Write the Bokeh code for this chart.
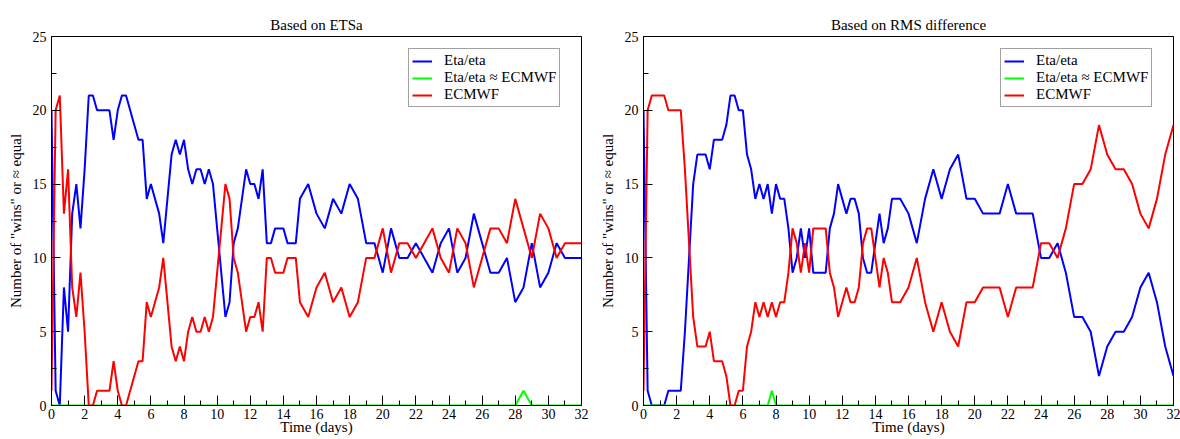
import numpy as np
from bokeh.plotting import figure
from bokeh.models import Range1d, SingleIntervalTicker, Legend, LegendItem
from bokeh.layouts import row
from bokeh.embed import file_html
from bokeh.resources import INLINE

# time axis: every 6 h up to day 15, then every 12 h
time_fine = np.arange(0, 15.001, 0.25)
time_coarse = np.arange(15.5, 32.001, 0.5)
time_days = np.concatenate([time_fine, time_coarse])

# ---- Based on ETSa ----
ets_eta = [20, 1, 0, 8, 5, 13, 15, 12, 16, 21,
           21, 20, 20, 20, 20, 18, 20, 21, 21, 20,
           19, 18, 18, 14, 15, 14, 13, 11, 14, 17,
           18, 17, 18, 16, 15, 16, 16, 15, 16, 15,
           12, 9, 6, 7, 11, 12, 14, 16, 15, 15,
           14, 16, 11, 11, 12, 12, 12, 11, 11, 11, 14,
           15, 13, 12, 14, 13, 15, 14, 11, 11, 9,
           12, 10, 10, 11, 10, 9, 11, 12, 9, 10,
           13, 11, 9, 9, 10, 7, 8, 11, 8, 9,
           11, 10, 10, 10]
ets_tie = [0, 0, 0, 0, 0, 0, 0, 0, 0, 0,
           0, 0, 0, 0, 0, 0, 0, 0, 0, 0,
           0, 0, 0, 0, 0, 0, 0, 0, 0, 0,
           0, 0, 0, 0, 0, 0, 0, 0, 0, 0,
           0, 0, 0, 0, 0, 0, 0, 0, 0, 0,
           0, 0, 0, 0, 0, 0, 0, 0, 0, 0, 0,
           0, 0, 0, 0, 0, 0, 0, 0, 0, 0,
           0, 0, 0, 0, 0, 0, 0, 0, 0, 0,
           0, 0, 0, 0, 0, 0, 1, 0, 0, 0,
           0, 0, 0, 0]
ets_ecmwf = [1, 20, 21, 13, 16, 8, 6, 9, 5, 0,
             0, 1, 1, 1, 1, 3, 1, 0, 0, 1,
             2, 3, 3, 7, 6, 7, 8, 10, 7, 4,
             3, 4, 3, 5, 6, 5, 5, 6, 5, 6,
             9, 12, 15, 14, 10, 9, 7, 5, 6, 6,
             7, 5, 10, 10, 9, 9, 9, 10, 10, 10, 7,
             6, 8, 9, 7, 8, 6, 7, 10, 10, 12,
             9, 11, 11, 10, 11, 12, 10, 9, 12, 11,
             8, 10, 12, 12, 11, 14, 12, 10, 13, 12,
             10, 11, 11, 11]

# ---- Based on RMS difference ----
rms_eta = [20, 1, 0, 0, 0, 0, 1, 1, 1, 1,
           5, 10, 15, 17, 17, 17, 16, 18, 18, 18,
           19, 21, 21, 20, 20, 17, 16, 14, 15, 14,
           15, 13, 15, 14, 14, 12, 9, 10, 12, 10,
           12, 9, 9, 9, 9, 12, 13, 15, 14, 13,
           14, 14, 13, 10, 9, 9, 11, 13, 11, 12, 14,
           14, 13, 11, 14, 16, 14, 16, 17, 14, 14,
           13, 13, 13, 15, 13, 13, 13, 10, 10, 11,
           9, 6, 6, 5, 2, 4, 5, 5, 6, 8,
           9, 7, 4, 2]
rms_tie = [0, 0, 0, 0, 0, 0, 0, 0, 0, 0,
           0, 0, 0, 0, 0, 0, 0, 0, 0, 0,
           0, 0, 0, 0, 0, 0, 0, 0, 0, 0,
           0, 1, 0, 0, 0, 0, 0, 0, 0, 0,
           0, 0, 0, 0, 0, 0, 0, 0, 0, 0,
           0, 0, 0, 0, 0, 0, 0, 0, 0, 0, 0,
           0, 0, 0, 0, 0, 0, 0, 0, 0, 0,
           0, 0, 0, 0, 0, 0, 0, 0, 0, 0,
           0, 0, 0, 0, 0, 0, 0, 0, 0, 0,
           0, 0, 0, 0]
rms_ecmwf = [1, 20, 21, 21, 21, 21, 20, 20, 20, 20,
             16, 11, 6, 4, 4, 4, 5, 3, 3, 3,
             2, 0, 0, 1, 1, 4, 5, 7, 6, 7,
             6, 7, 6, 7, 7, 9, 12, 11, 9, 11,
             9, 12, 12, 12, 12, 9, 8, 6, 7, 8,
             7, 7, 8, 11, 12, 12, 10, 8, 10, 9, 7,
             7, 8, 10, 7, 5, 7, 5, 4, 7, 7,
             8, 8, 8, 6, 8, 8, 8, 11, 11, 10,
             12, 15, 15, 16, 19, 17, 16, 16, 15, 13,
             12, 14, 17, 19]

x_ticks_major = 2
y_ticks_major = 5
series_labels = ["Eta/eta", "Eta/eta \u2248 ECMWF", "ECMWF"]
series_colors = ["#0000ff", "#00ff00", "#ff0000"]

SERIF = "'Liberation Serif', 'Times New Roman', serif"
FRAME_H = 369


def panel(title, eta, tie, ecmwf, frame_w, border_left, border_right):
    p = figure(frame_width=frame_w, frame_height=FRAME_H,
               x_range=Range1d(0, 32), y_range=Range1d(0, 25),
               output_backend="svg", toolbar_location=None,
               min_border_left=border_left, min_border_right=border_right,
               min_border_top=36, min_border_bottom=0)
    p.title.text = title
    p.title.align = "center"
    p.title.text_font = SERIF
    p.title.text_font_style = "normal"
    p.title.text_font_size = "15px"
    p.title.text_color = "black"
    p.title.standoff = 8

    p.xgrid.visible = False
    p.ygrid.visible = False
    p.outline_line_color = "black"
    p.outline_line_width = 1
    p.outline_line_alpha = 1

    p.xaxis.ticker = SingleIntervalTicker(interval=x_ticks_major, num_minor_ticks=2)
    p.yaxis.ticker = SingleIntervalTicker(interval=y_ticks_major, num_minor_ticks=2)
    p.xaxis.axis_label = "Time (days)"
    p.yaxis.axis_label = "Number of \"wins\" or \u2248 equal"
    for ax in (p.xaxis[0], p.yaxis[0]):
        ax.axis_line_color = "black"
        ax.major_tick_line_color = "black"
        ax.minor_tick_line_color = "black"
        ax.major_tick_out = 0
        ax.minor_tick_in = 5
        ax.minor_tick_out = 0
        ax.major_label_text_font = SERIF
        ax.major_label_text_font_size = "14px"
        ax.major_label_text_color = "black"
        ax.axis_label_text_font = SERIF
        ax.axis_label_text_font_style = "normal"
        ax.axis_label_text_font_size = "15px"
        ax.axis_label_text_color = "black"
    p.xaxis.major_tick_in = 10
    p.yaxis.major_tick_in = 9
    p.xaxis.major_label_standoff = 3
    p.xaxis.axis_label_standoff = -3
    p.yaxis.major_label_standoff = 5
    p.yaxis.axis_label_standoff = 6

    renderers = []
    for vals, col in zip([eta, tie, ecmwf], series_colors):
        r = p.line(time_days, vals, line_color=col, line_width=2)
        renderers.append(r)

    legend = Legend(items=[LegendItem(label=l, renderers=[r]) for l, r in zip(series_labels, renderers)],
                    location=(357, FRAME_H - 71))
    legend.label_text_font = SERIF
    legend.label_text_font_size = "15px"
    legend.label_text_line_height = 1.0
    legend.label_text_color = "black"
    legend.glyph_width = 20
    legend.glyph_height = 14
    legend.label_height = 14
    legend.label_standoff = 12
    legend.spacing = 0
    legend.padding = 3
    legend.margin = 0
    legend.border_line_color = "#444444"
    legend.border_line_width = 1
    legend.background_fill_alpha = 1
    p.add_layout(legend)
    return p


p1 = panel("Based on ETSa", ets_eta, ets_tie, ets_ecmwf, 530, 51, 12)
p2 = panel("Based on RMS difference", rms_eta, rms_tie, rms_ecmwf, 530, 50, 7)
layout = row(p1, p2)

open("out.html", "w").write(file_html(layout, INLINE))
